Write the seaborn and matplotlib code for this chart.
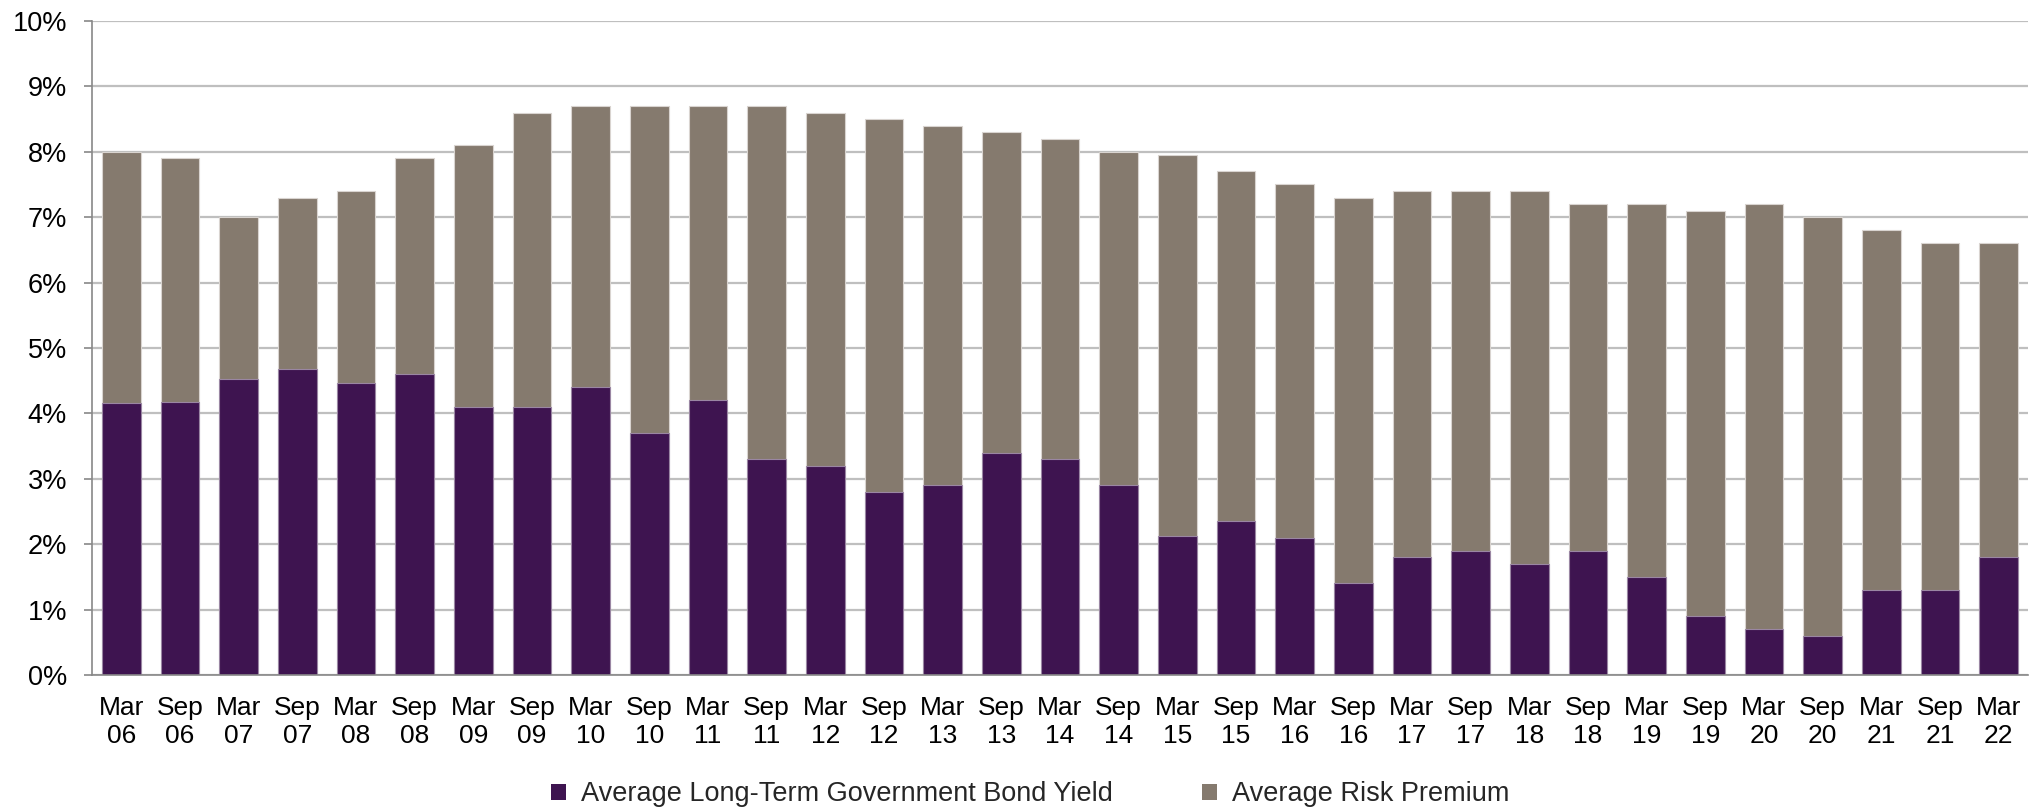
import matplotlib
matplotlib.use("Agg")
import matplotlib.pyplot as plt
import matplotlib.ticker as mticker
from matplotlib.patches import Patch
import numpy as np
import pandas as pd
import seaborn as sns

periods = ["Mar\n06", "Sep\n06", "Mar\n07", "Sep\n07", "Mar\n08", "Sep\n08",
           "Mar\n09", "Sep\n09", "Mar\n10", "Sep\n10", "Mar\n11", "Sep\n11",
           "Mar\n12", "Sep\n12", "Mar\n13", "Sep\n13", "Mar\n14", "Sep\n14",
           "Mar\n15", "Sep\n15", "Mar\n16", "Sep\n16", "Mar\n17", "Sep\n17",
           "Mar\n18", "Sep\n18", "Mar\n19", "Sep\n19", "Mar\n20", "Sep\n20",
           "Mar\n21", "Sep\n21", "Mar\n22"]

bond_yield = [4.16, 4.18, 4.53, 4.68, 4.47, 4.60, 4.10, 4.10, 4.40, 3.70, 4.20, 3.30,
              3.20, 2.80, 2.90, 3.40, 3.30, 2.90, 2.13, 2.35, 2.10, 1.40, 1.80, 1.90,
              1.70, 1.90, 1.50, 0.90, 0.70, 0.60, 1.30, 1.30, 1.80]

risk_premium = [3.84, 3.72, 2.47, 2.62, 2.93, 3.30, 4.00, 4.50, 4.30, 5.00, 4.50, 5.40,
                5.40, 5.70, 5.50, 4.90, 4.90, 5.10, 5.82, 5.35, 5.40, 5.90, 5.60, 5.50,
                5.70, 5.30, 5.70, 6.20, 6.50, 6.40, 5.50, 5.30, 4.80]

series_names = ["Average Long-Term Government Bond Yield", "Average Risk Premium"]
yticks = [0, 1, 2, 3, 4, 5, 6, 7, 8, 9, 10]

PURPLE = "#3E1450"
GREY = "#857A6E"

sns.set_theme(style="white")
plt.rcParams["font.family"] = ["Liberation Sans", "DejaVu Sans"]

df = pd.DataFrame({"period": periods, "bond": bond_yield, "premium": risk_premium})
df["total"] = df["bond"] + df["premium"]

fig = plt.figure(figsize=(20.38, 8.08), dpi=100)
ax = fig.add_axes([92 / 2038, 1 - 675 / 808, (2028 - 92) / 2038, (675 - 21) / 808])

ax.set_axisbelow(True)
ax.yaxis.grid(True, color="#BFBFBF", linewidth=1.6)

sns.barplot(data=df, x="period", y="total", color=GREY, saturation=1, width=0.66,
            edgecolor="#D9D4D0", linewidth=0.8, ax=ax)
sns.barplot(data=df, x="period", y="bond", color=PURPLE, saturation=1, width=0.66,
            edgecolor="#9A86A3", linewidth=0.8, ax=ax)

ax.set_xlim(-0.5, len(periods) - 0.5)
ax.set_ylim(0, 10)
ax.set_yticks(yticks)
ax.yaxis.set_major_formatter(mticker.FuncFormatter(lambda v, p: f"{v:.0f}%"))
ax.set_xlabel("")
ax.set_ylabel("")

# category labels on minor ticks, tick marks at category boundaries
ax.set_xticks(np.arange(len(periods)), labels=periods, minor=True)
ax.set_xticks(np.arange(len(periods) + 1) - 0.5, labels=[""] * (len(periods) + 1))
ax.tick_params(axis="x", which="minor", length=0, pad=15, labelsize=19, colors="black")
ax.tick_params(axis="x", which="major", length=5.5, width=1.2, color="#888888", direction="out")
ax.tick_params(axis="y", length=6, width=1.2, color="#888888", pad=12, labelsize=19.5,
               labelcolor="black", direction="out", left=True)

for s in ["top", "right"]:
    ax.spines[s].set_visible(False)
for s in ["left", "bottom"]:
    ax.spines[s].set_color("#888888")
    ax.spines[s].set_linewidth(1.2)

handles = [Patch(facecolor=PURPLE, edgecolor="none"), Patch(facecolor=GREY, edgecolor="none")]
fig.legend(handles, series_names, loc="center", bbox_to_anchor=(0.5055, 0.017), ncol=2,
           frameon=False, fontsize=19.5, handlelength=0.55, handleheight=0.55,
           handletextpad=0.55, columnspacing=3.3)

fig.savefig("out.png", dpi=100)
